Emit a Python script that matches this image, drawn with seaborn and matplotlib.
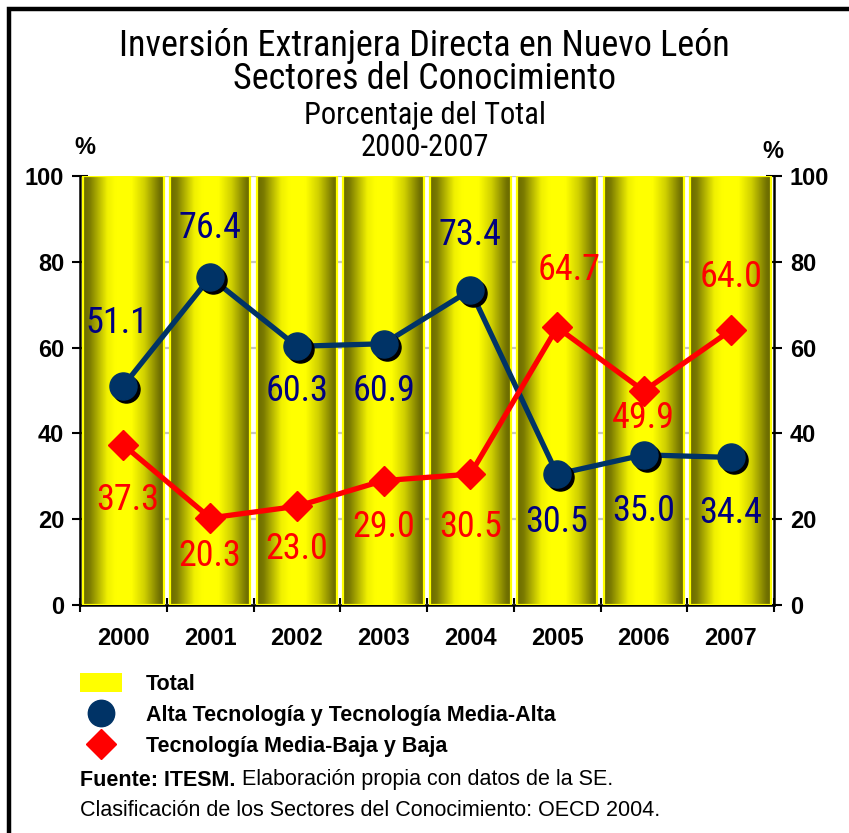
import numpy as np
import pandas as pd
import matplotlib
matplotlib.use("Agg")
import matplotlib.pyplot as plt
import matplotlib.transforms as mtransforms
from matplotlib.colors import LinearSegmentedColormap
from matplotlib.patches import Patch
from matplotlib.lines import Line2D
import seaborn as sns
from matplotlib import font_manager

# ---------------- data ----------------
years = ["2000", "2001", "2002", "2003", "2004", "2005", "2006", "2007"]
total = [100, 100, 100, 100, 100, 100, 100, 100]
alta = [51.1, 76.4, 60.3, 60.9, 73.4, 30.5, 35.0, 34.4]
media = [37.3, 20.3, 23.0, 29.0, 30.5, 64.7, 49.9, 64.0]

# label offsets (pixels) relative to each point
alta_off = [(-6, 63), (0, 49), (0, -45), (0, -47), (0, 55), (0, -48), (0, -56), (0, -56)]
media_off = [(4, -55), (0, -38), (0, -43), (0, -46), (0, -53), (12, 57), (0, -27), (0, 53)]

names = {f.name for f in font_manager.fontManager.ttflist}
cands = ["Liberation Sans Narrow", "Arial Narrow", "Roboto Condensed",
         "Open Sans Condensed", "DejaVu Sans Condensed", "Liberation Sans"]
NARROW = [c for c in cands if c in names] + ["DejaVu Sans"]
ARIAL = ["Liberation Sans", "DejaVu Sans"]

sns.set_theme(style="white")
plt.rcParams["font.family"] = ARIAL
for k in ["text.color", "axes.labelcolor", "xtick.color", "ytick.color"]:
    plt.rcParams[k] = "black"

W, H = 849, 833
fig = plt.figure(figsize=(W / 100, H / 100), dpi=100)
ax = fig.add_axes([80 / W, 1 - 605 / H, (774 - 80) / W, (605 - 176) / H])

df = pd.DataFrame({"year": years, "total": total})
sns.barplot(data=df, x="year", y="total", color="#ffff00", width=0.93,
            ax=ax, zorder=2, saturation=1)

cmap = LinearSegmentedColormap.from_list(
    "cyl", [(0.0, "#6a6a00"), (0.08, "#7a7a00"), (0.30, "#f0f000"),
            (0.40, "#ffff00"), (0.60, "#ffff00"), (0.76, "#d0d000"),
            (0.95, "#707000"), (1.0, "#6a6a00")])
grad = np.linspace(0, 1, 256).reshape(1, -1)
for p in ax.patches:
    x0, w, h = p.get_x(), p.get_width(), p.get_height()
    ax.imshow(grad, cmap=cmap, aspect="auto", extent=[x0, x0 + w, 0, h],
              zorder=2.5, interpolation="bicubic")
    p.set_facecolor("none")
    p.set_edgecolor("#ffff00")
    p.set_linewidth(1.6)
    p.set_zorder(2.6)

ax.set_xlim(-0.5, 7.5)
ax.set_ylim(0, 100)
ax.set_yticks([0, 20, 40, 60, 80, 100])
ax.yaxis.grid(True, color="#c4c4c4", lw=1.6)
ax.set_axisbelow(True)
ax.set_xlabel("")
ax.set_ylabel("")

xs = np.arange(len(years))
navy = "#003366"
ax.plot(xs, alta, color=navy, lw=3.8, zorder=4, solid_capstyle="round")
shadow = mtransforms.offset_copy(ax.transData, fig=fig, x=3, y=-3, units="dots")
ax.plot(xs, alta, ls="none", marker="o", ms=19.5, color="black", transform=shadow, zorder=4.5)
ax.plot(xs, alta, ls="none", marker="o", ms=19.5, color=navy, zorder=5)
ax.plot(xs, media, color="#ff0000", lw=3.8, marker="D", ms=15, zorder=6)

for i, (v, o) in enumerate(zip(alta, alta_off)):
    ax.annotate(f"{v:.1f}", (i, v), xytext=o, textcoords="offset pixels",
                ha="center", va="center", fontsize=26, color="#000080",
                family=NARROW, zorder=7)
for i, (v, o) in enumerate(zip(media, media_off)):
    ax.annotate(f"{v:.1f}", (i, v), xytext=o, textcoords="offset pixels",
                ha="center", va="center", fontsize=26, color="#ff0000",
                family=NARROW, zorder=7)

for s in ["left", "right", "bottom"]:
    ax.spines[s].set_visible(True)
    ax.spines[s].set_color("black")
    ax.spines[s].set_linewidth(1.8)
ax.spines["top"].set_visible(False)
ax.tick_params(axis="y", which="major", left=True, right=True, labelleft=True,
               labelright=True, direction="inout", length=11, width=1.5,
               labelsize=17, pad=6, colors="black")
for lab in ax.get_yticklabels():
    lab.set_fontweight("bold")
ax.set_xticks(xs)
ax.set_xticklabels(years, fontsize=17, fontweight="bold")
ax.tick_params(axis="x", which="major", length=0, pad=16, labelcolor="black")
ax.set_xticks(np.arange(-0.5, 8, 1), minor=True)
ax.tick_params(axis="x", which="minor", bottom=True, direction="inout",
               length=10, width=1.5, color="black")

fig.text(0.5, 1 - 46 / H, "Inversión Extranjera Directa en Nuevo León", ha="center",
         va="center", fontsize=26, family=NARROW)
fig.text(0.5, 1 - 79 / H, "Sectores del Conocimiento", ha="center",
         va="center", fontsize=26, family=NARROW)
fig.text(0.5, 1 - 115 / H, "Porcentaje del Total", ha="center",
         va="center", fontsize=22, family=NARROW)
fig.text(0.5, 1 - 148 / H, "2000-2007", ha="center",
         va="center", fontsize=22, family=NARROW)
fig.text(85 / W, 1 - 148 / H, "%", ha="center", va="center", fontsize=17, fontweight="bold")
fig.text(773 / W, 1 - 152 / H, "%", ha="center", va="center", fontsize=17, fontweight="bold")

handles = [
    Patch(facecolor="#ffff00", edgecolor="none"),
    Line2D([], [], ls="none", marker="o", ms=19, color=navy),
    Line2D([], [], ls="none", marker="D", ms=15, color="#ff0000"),
]
labels = ["Total", "Alta Tecnología y Tecnología Media-Alta", "Tecnología Media-Baja y Baja"]
fig.legend(handles, labels, loc="upper left", bbox_to_anchor=(80 / W, 1 - 673 / H),
           frameon=False, borderpad=0, borderaxespad=0, handlelength=1.95,
           handleheight=1.0, handletextpad=1.1, labelspacing=0.42,
           prop={"weight": "bold", "size": 15.5, "family": ARIAL})

t1 = fig.text(80 / W, 1 - 780 / H, "Fuente: ITESM.", ha="left", va="center",
              fontsize=15.5, fontweight="bold")
ax.annotate(" Elaboración propia con datos de la SE.", xy=(1, 0.5), xycoords=t1,
            ha="left", va="center", fontsize=15.5, annotation_clip=False)
fig.text(80 / W, 1 - 810 / H, "Clasificación de los Sectores del Conocimiento: OECD 2004.",
         ha="left", va="center", fontsize=15.5)

fig.add_artist(Line2D([9 / W, 9 / W, 1.0], [0.0, 1 - 9 / H, 1 - 9 / H],
                      transform=fig.transFigure, color="black", lw=3.2,
                      solid_joinstyle="miter"))

fig.savefig("out.png", dpi=100)
